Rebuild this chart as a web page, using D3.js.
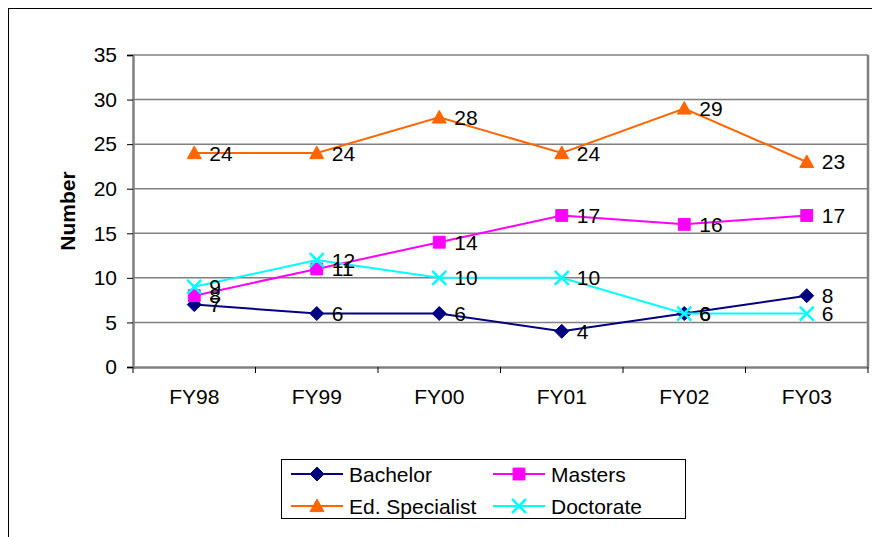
<!DOCTYPE html>
<html><head><meta charset="utf-8">
<script src="https://cdn.jsdelivr.net/npm/d3@7"></script>
<style>body{margin:0;background:#fff}svg{display:block}text{font-family:Arial,"Liberation Sans",sans-serif}</style>
</head><body><svg id="c" width="872" height="537"></svg>
<script>
const categories = ["FY98","FY99","FY00","FY01","FY02","FY03"];
const seriesNames = ["Bachelor","Masters","Ed. Specialist","Doctorate"];
const bachelor = [7,6,6,4,6,8];
const masters = [8,11,14,17,16,17];
const edSpecialist = [24,24,28,24,29,23];
const doctorate = [9,12,10,10,6,6];
const yTicks = [0,5,10,15,20,25,30,35];
const colors = ["#000080","#FF00FF","#FF6600","#00FFFF"];
const markers = ["diamond","square","triangle","x"];
const allValues = [bachelor, masters, edSpecialist, doctorate];
const FS = 21;

const svg = d3.select("#c");
svg.append("rect").attr("x",8.5).attr("y",8.5).attr("width",900).attr("height",600)
  .attr("fill","none").attr("stroke","#000").attr("stroke-width",1);

const L=133, R=868, T=55, B=367;
const x = d3.scaleBand().domain(categories).range([L,R]);
const y = d3.scaleLinear().domain([0,35]).range([B,T]);

svg.append("g").selectAll("line").data(yTicks.filter(d=>d>0)).join("line")
  .attr("x1",L).attr("x2",R).attr("y1",d=>y(d)).attr("y2",d=>y(d))
  .attr("stroke","#808080").attr("stroke-width",1.5);
svg.append("line").attr("x1",R).attr("x2",R).attr("y1",T).attr("y2",B).attr("stroke","#808080").attr("stroke-width",2.5);

const ya = svg.append("g").attr("transform",`translate(${L},0)`)
  .call(d3.axisLeft(y).tickValues(yTicks).tickSize(6).tickPadding(10));
ya.select(".domain").attr("stroke","#808080").attr("stroke-width",2.5);
ya.selectAll(".tick line").attr("stroke","#000");
ya.selectAll(".tick text").attr("font-size",FS).attr("fill","#000").attr("font-family","Arial,'Liberation Sans',sans-serif");

const xa = svg.append("g").attr("transform",`translate(0,${B})`)
  .call(d3.axisBottom(x).tickSize(0).tickPadding(22));
xa.select(".domain").attr("stroke","#808080").attr("stroke-width",2.5);
xa.selectAll(".tick text").attr("font-size",FS).attr("fill","#000").attr("font-family","Arial,'Liberation Sans',sans-serif");
const bounds = categories.map(c=>x(c)).concat([R]);
svg.append("g").selectAll("line").data(bounds).join("line")
  .attr("x1",d=>d).attr("x2",d=>d).attr("y1",B).attr("y2",B+6).attr("stroke","#000");

svg.append("text").attr("transform",`translate(75,${(T+B)/2}) rotate(-90)`)
  .attr("text-anchor","middle").attr("font-size",FS).attr("font-weight","bold").text("Number");

function markerPath(type, s){
  if(type==="diamond") return `M0,${-s}L${s},0L0,${s}L${-s},0Z`;
  if(type==="square") return `M${-s*0.85},${-s*0.85}h${s*1.7}v${s*1.7}h${-s*1.7}Z`;
  if(type==="triangle") return `M0,${-s}L${s},${s*0.8}L${-s},${s*0.8}Z`;
  return `M${-s},${-s}L${s},${s}M${-s},${s}L${s},${-s}`;
}
function drawMarker(g, type, color, s){
  const p = g.append("path").attr("d",markerPath(type,s));
  if(type==="x") p.attr("fill","none").attr("stroke",color).attr("stroke-width",2.5);
  else p.attr("fill",color).attr("stroke",color);
}

const cx = c => x(c)+x.bandwidth()/2;
allValues.forEach((vals,i)=>{
  const line = d3.line().x((d,j)=>cx(categories[j])).y(d=>y(d));
  svg.append("path").datum(vals).attr("d",line).attr("fill","none")
    .attr("stroke",colors[i]).attr("stroke-width",2);
  vals.forEach((v,j)=>{
    const g = svg.append("g").attr("transform",`translate(${cx(categories[j])},${y(v)})`);
    drawMarker(g, markers[i], colors[i], 7);
  });
});
allValues.forEach((vals,i)=>{
  vals.forEach((v,j)=>{
    svg.append("text").attr("x",cx(categories[j])+15).attr("y",y(v)+7.5)
      .attr("font-size",FS).attr("fill","#000").text(v);
  });
});

const lg = svg.append("g");
lg.append("rect").attr("x",281.5).attr("y",459.5).attr("width",404).attr("height",59)
  .attr("fill","#fff").attr("stroke","#000");
const pos = [[291,474],[493,474],[291,506],[493,506]];
seriesNames.forEach((n,i)=>{
  const [lx,ly]=pos[i];
  lg.append("line").attr("x1",lx).attr("x2",lx+52).attr("y1",ly).attr("y2",ly)
    .attr("stroke",colors[i]).attr("stroke-width",2);
  const g = lg.append("g").attr("transform",`translate(${lx+26},${ly})`);
  drawMarker(g, markers[i], colors[i], 7);
  lg.append("text").attr("x",lx+58).attr("y",ly+7.5).attr("font-size",FS).text(n);
});
</script></body></html>
